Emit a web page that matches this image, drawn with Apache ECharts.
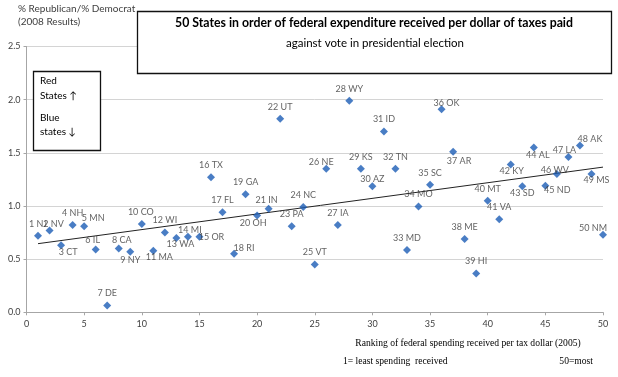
<!DOCTYPE html>
<html><head><meta charset="utf-8">
<script src="https://cdn.jsdelivr.net/npm/echarts@6/dist/echarts.min.js"></script>
<style>html,body{margin:0;padding:0;background:#fff}#c{width:618px;height:377px}</style>
</head><body><div id="c"></div>
<script>
const states = ['NJ','NV','CT','NH','MN','IL','DE','CA','NY','CO','MA','WI','WA','MI','OR','TX','FL','RI','GA','OH','IN','UT','PA','NC','VT','NE','IA','WY','KS','AZ','ID','TN','MD','MO','SC','OK','AR','ME','HI','MT','VA','KY','SD','AL','ND','WV','LA','AK','MS','NM'];
const ranks = [1,2,3,4,5,6,7,8,9,10,11,12,13,14,15,16,17,18,19,20,21,22,23,24,25,26,27,28,29,30,31,32,33,34,35,36,37,38,39,40,41,42,43,44,45,46,47,48,49,50];
const ratio = [0.72,0.77,0.63,0.82,0.81,0.59,0.065,0.60,0.57,0.83,0.58,0.75,0.70,0.71,0.71,
  1.27,0.94,0.55,1.11,0.91,0.975,1.82,0.81,0.99,0.45,1.35,0.82,1.99,1.35,1.185,1.70,1.35,0.585,
  0.995,1.20,1.91,1.51,0.69,0.365,1.05,0.875,1.39,1.185,1.55,1.19,1.30,1.46,1.57,1.30,0.73];
const xTicks = [0,5,10,15,20,25,30,35,40,45,50];
const yTicks = [0.0,0.5,1.0,1.5,2.0,2.5];

// label offsets (style only), [dx, dy] in px from the marker centre
const labelOffsets = {
  NJ:[0,-12], NV:[4,-6], CT:[7,7], NH:[0,-12], MN:[9,-8], IL:[-3,-9], DE:[0,-12], CA:[3,-8], NY:[0,8], CO:[-1,-12],
  MA:[6,6], WI:[0,-12], WA:[4,6], MI:[2,-7], OR:[12,0], TX:[0,-12], FL:[0,-12], RI:[10,-6], GA:[0,-12], OH:[-4,8],
  IN:[-2,-9], UT:[0,-12], PA:[0,-12], NC:[0,-12], VT:[0,-12], NE:[-5,-7], IA:[0,-12], WY:[0,-12], KS:[0,-12], AZ:[0,-7],
  ID:[0,-12], TN:[0,-12], MD:[0,-12], MO:[0,-12], SC:[0,-12], OK:[5,-6], AR:[6,9], ME:[0,-12], HI:[0,-12], MT:[0,-12],
  VA:[0,-12], KY:[1,7], SD:[0,7], AL:[4,8], ND:[12,4], WV:[-2,-4], LA:[-4,-7], AK:[10,-6], MS:[5,6], NM:[-10,-7]
};

// least-squares trend line from the data
const n = ranks.length;
const mx = ranks.reduce((a,b)=>a+b,0)/n;
const my = ratio.reduce((a,b)=>a+b,0)/n;
let sxy=0, sxx=0;
for (let i=0;i<n;i++){ sxy += (ranks[i]-mx)*(ratio[i]-my); sxx += (ranks[i]-mx)*(ranks[i]-mx); }
const slope = sxy/sxx, icpt = my - slope*mx;
const xFirst = ranks[0], xLast = ranks[n-1];
const trend = [[xFirst, icpt+slope*xFirst],[xLast, icpt+slope*xLast]];

const pts = ranks.map((r,i)=>({
  value:[r, ratio[i]],
  name: r + ' ' + states[i],
  label:{offset: labelOffsets[states[i]]}
}));

const chart = echarts.init(document.getElementById('c'), null, {renderer:'canvas'});
const lblFont = 'Lato, "Liberation Sans", sans-serif';
const serif = '"Liberation Serif", "Times New Roman", serif';
chart.setOption({
  animation:false,
  grid:{left:26.5, right:15, top:46.5, bottom:64.7},
  xAxis:{type:'value', min:0, max:50, interval:5,
    axisLine:{lineStyle:{color:'#a6a6a6'}},
    axisTick:{length:3, lineStyle:{color:'#a6a6a6'}},
    axisLabel:{color:'#404040', fontSize:9, fontFamily:lblFont, margin:7,
      customValues: xTicks},
    splitLine:{show:false}},
  yAxis:{type:'value', min:0, max:2.5, interval:0.5,
    axisLine:{show:true, lineStyle:{color:'#a6a6a6'}},
    axisTick:{show:true, length:3, lineStyle:{color:'#a6a6a6'}},
    axisLabel:{color:'#404040', fontSize:9, fontFamily:lblFont, margin:6,
      formatter:v=>v.toFixed(1), customValues: yTicks},
    splitLine:{lineStyle:{color:'#d4d4d4'}}},
  series:[
    {type:'line', data:trend, symbol:'none', silent:true,
     lineStyle:{color:'#222', width:1}, z:2},
    {type:'scatter', data:pts, symbol:'diamond', symbolSize:8,
     itemStyle:{color:'#1c5cb5'}, z:3,
     label:{show:true, position:'inside', formatter:p=>p.name,
       color:'#3a3a3a', fontSize:9, fontFamily:lblFont}}
  ],
  graphic:[
    {type:'text', left:18, top:4, style:{text:'% Republican/% Democrat', font:'10px '+lblFont, fill:'#404040'}},
    {type:'text', left:18, top:17, style:{text:'(2008 Results)', font:'10px '+lblFont, fill:'#404040'}},
    {type:'rect', shape:{x:137.5, y:11.5, width:474, height:62}, style:{fill:'#fff', stroke:'#111', lineWidth:1.3}, z:10},
    {type:'text', x:374, y:23, z:11, style:{text:'50 States in order of federal expenditure received per dollar of taxes paid', font:'bold 12.3px '+lblFont, fill:'#000', textAlign:'center', textVerticalAlign:'middle'}},
    {type:'text', x:375, y:43, z:11, style:{text:'against vote in presidential election', font:'11.5px '+lblFont, fill:'#000', textAlign:'center', textVerticalAlign:'middle'}},
    {type:'rect', shape:{x:33.5, y:71.5, width:67, height:79}, style:{fill:'#fff', stroke:'#111', lineWidth:1.3}, z:10},
    {type:'text', x:40, y:81, z:11, style:{text:'Red', font:'10px '+lblFont, fill:'#000', textVerticalAlign:'middle'}},
    {type:'text', x:40, y:96, z:11, style:{text:'States \u2191', font:'10px '+lblFont, fill:'#000', textVerticalAlign:'middle'}},
    {type:'text', x:40, y:118, z:11, style:{text:'Blue', font:'10px '+lblFont, fill:'#000', textVerticalAlign:'middle'}},
    {type:'text', x:40, y:132, z:11, style:{text:'states \u2193', font:'10px '+lblFont, fill:'#000', textVerticalAlign:'middle'}},
    {type:'text', x:468, y:343, style:{text:'Ranking of federal spending received per tax dollar (2005)', font:'9.6px '+serif, fill:'#000', textAlign:'center', textVerticalAlign:'middle'}},
    {type:'text', x:343, y:361, style:{text:'1= least spending  received', font:'9.6px '+serif, fill:'#000', textVerticalAlign:'middle'}},
    {type:'text', x:593, y:361, style:{text:'50=most', font:'9.6px '+serif, fill:'#000', textAlign:'right', textVerticalAlign:'middle'}}
  ]
});
</script></body></html>
